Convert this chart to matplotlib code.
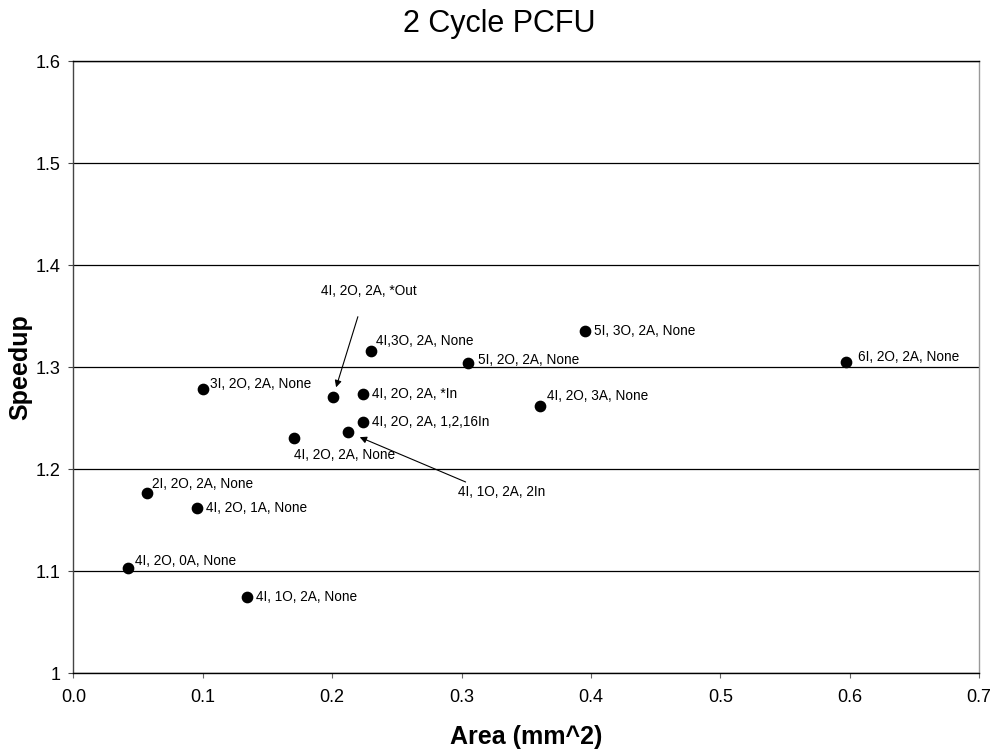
import numpy as np
import matplotlib.pyplot as plt

plt.rcParams['font.family'] = ['Liberation Sans', 'DejaVu Sans']

# area (mm^2) vs speedup for each PCFU configuration
area = [0.0424, 0.0566, 0.0952, 0.1003, 0.1338, 0.1706, 0.2008, 0.2124,
        0.2235, 0.2235, 0.2297, 0.3051, 0.3605, 0.3958, 0.5975]
speedup = [1.1026, 1.176, 1.1615, 1.278, 1.0748, 1.230, 1.271, 1.236,
           1.2735, 1.2458, 1.3157, 1.3042, 1.262, 1.335, 1.3045]
labels = ["4I, 2O, 0A, None", "2I, 2O, 2A, None", "4I, 2O, 1A, None",
          "3I, 2O, 2A, None", "4I, 1O, 2A, None", "4I, 2O, 2A, None",
          "4I, 2O, 2A, *Out", "4I, 1O, 2A, 2In", "4I, 2O, 2A, *In",
          "4I, 2O, 2A, 1,2,16In", "4I,3O, 2A, None", "5I, 2O, 2A, None",
          "4I, 2O, 3A, None", "5I, 3O, 2A, None", "6I, 2O, 2A, None"]

x_ticks = [0.0, 0.1, 0.2, 0.3, 0.4, 0.5, 0.6, 0.7]
y_ticks = [1.0, 1.1, 1.2, 1.3, 1.4, 1.5, 1.6]
y_ticklabels = ["1", "1.1", "1.2", "1.3", "1.4", "1.5", "1.6"]

# label offsets in points (dx, dy); None = placed separately below
offsets = [(5, 5), (4, 7), (7, 0), (5, 4), (7, 0), (None, None), (None, None),
           (None, None), (7, 0), (7, 0), (4, 7), (7, 2), (5, 7), (6, 0), (8, 4)]

LABEL_FS = 9.8

fig = plt.figure(figsize=(9.98, 7.55), dpi=100)
ax = fig.add_axes([0.0736, 0.1086, 0.9074, 0.8106])

ax.scatter(area, speedup, s=55, color='black', zorder=3)

for i, lab in enumerate(labels):
    dx, dy = offsets[i]
    if dx is None:
        continue
    ax.annotate(lab, (area[i], speedup[i]), xytext=(dx, dy),
                textcoords='offset points', fontsize=LABEL_FS,
                va='center', ha='left')

# label sitting under its point
ax.annotate(labels[5], (area[5], speedup[5]), xytext=(0, -12),
            textcoords='offset points', fontsize=LABEL_FS,
            va='center', ha='left')

# arrowed labels
ax.annotate(labels[6], (area[6], speedup[6]), xytext=(0.228, 1.3745),
            textcoords='data', fontsize=LABEL_FS, ha='center', va='center',
            arrowprops=dict(arrowstyle='-|>', color='black', lw=0.8,
                            relpos=(0.45, 0), shrinkA=12, shrinkB=7,
                            mutation_scale=10))
ax.annotate(labels[7], (area[7], speedup[7]), xytext=(0.3308, 1.1777),
            textcoords='data', fontsize=LABEL_FS, ha='center', va='center',
            arrowprops=dict(arrowstyle='-|>', color='black', lw=0.8,
                            relpos=(0.165, 1), shrinkA=0, shrinkB=9,
                            mutation_scale=10))

ax.set_xlim(0, 0.7)
ax.set_ylim(1.0, 1.6)
ax.set_xticks(x_ticks)
ax.set_xticklabels(["%.1f" % t for t in x_ticks], fontsize=13)
ax.set_yticks(y_ticks)
ax.set_yticklabels(y_ticklabels, fontsize=13)
ax.tick_params(axis='x', direction='out', length=3.6, width=0.8,
               color='#666666', pad=8)
ax.tick_params(axis='y', direction='out', length=3.6, width=0.8,
               color='#444444', pad=5.5)
ax.yaxis.grid(True, color='black', lw=0.9)
ax.set_axisbelow(True)

ax.spines['top'].set_color('black')
ax.spines['left'].set_color('#444444')
ax.spines['right'].set_color('#999999')
ax.spines['bottom'].set_color('black')
for s in ax.spines.values():
    s.set_linewidth(1.0)

ax.set_xlabel("Area (mm^2)", fontsize=18, fontweight='bold', va='center')
ax.xaxis.set_label_coords(0.5, -0.1046)
ax.set_ylabel("Speedup", fontsize=18, fontweight='bold', va='center')
ax.yaxis.set_label_coords(-0.059, 0.5)

fig.text(0.5, 0.9576, "2 Cycle PCFU", fontsize=22, ha='center', va='baseline')

fig.savefig("out.png", dpi=100)
